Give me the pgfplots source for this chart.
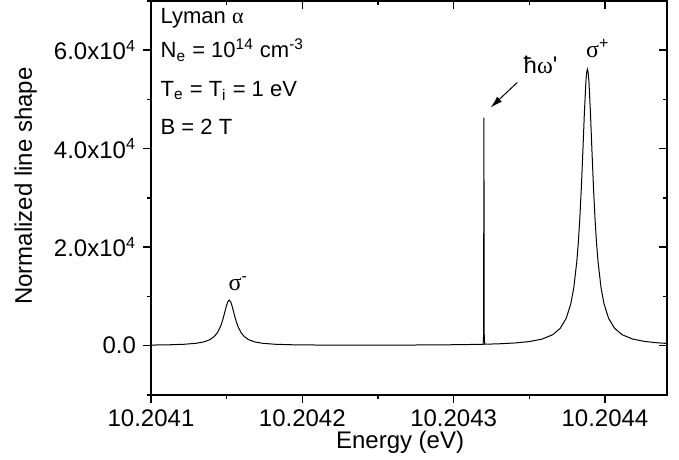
\documentclass[border=0pt]{standalone}
\usepackage{fontspec}
\setmainfont{Liberation Sans}
\newfontfamily\grk{Liberation Serif}
\usepackage{pgfplots}
\pgfplotsset{compat=1.18}
\usetikzlibrary{arrows.meta}
\pgfplotstableread{
x y
0 96
11.7 152
21.7 256
29.7 453
34.7 725
38.7 1163
41.7 1801
43.7 2530
45.7 3702
46.7 4528
47.7 5542
48.7 6713
49.7 7907
50.7 8853
51.7 9222
52.7 8854
53.7 7908
54.7 6714
55.7 5543
56.7 4529
57.7 3703
59.7 2533
61.7 1804
64.7 1168
68.7 731
73.7 461
81.7 267
91.7 167
111.7 99
141.7 83
171.7 104
201.7 170
219.5 259
219.8 2300
220.0 46300
220.2 2300
220.5 266
230 357
240 514
250 809
258.4 1310
265.4 2190
270.4 3486
274.4 5536
277.4 8448
279.4 11745
281.4 17079
282.4 20944
283.4 25904
284.4 32130
285.4 39517
286.4 47283
287.4 53604
287.9 55457
288.4 56104
288.9 55457
289.4 53604
290.4 47283
291.4 39517
292.4 32130
293.4 25904
294.4 20944
295.4 17079
297.4 11745
299.4 8448
302.4 5536
306.4 3486
311.4 2189
318.4 1309
326.4 825
334.4 566
340.8 438
}\spectrum
\begin{document}
\begin{tikzpicture}[font=\fontsize{12}{14}\selectfont]
\pgfplotsset{
  common/.style={
    scale only axis, width=257.85pt, height=197pt,
    xmin=0, xmax=340.8, ymin=-10000, ymax=70000,
    xtick={0,100,200,300}, minor xtick={50,150,250},
    ytick={0,20000,40000,60000}, minor ytick={-10000,10000,30000,50000,70000},
    scaled y ticks=false, scaled x ticks=false,
    axis line style={line width=0.8pt},
    every tick/.style={line width=0.8pt, black},
    major tick length=4pt, minor tick length=2pt,
  }
}
\begin{axis}[common, name=ax,
  tick align=outside, tick pos=left,
  xticklabels={10.2041,10.2042,10.2043,10.2044},
  yticklabels={0.0,2.0x10\textsuperscript{4},4.0x10\textsuperscript{4},6.0x10\textsuperscript{4}},
  xlabel={Energy (eV)}, ylabel={Normalized line shape},
  xlabel style={at={(axis description cs:0.483,0)}, anchor=base, yshift=-26.6pt, inner sep=0pt},
  ylabel style={at={(axis description cs:-0.2428,0.53)}, anchor=center},
  clip=false,
]
\addplot[black, line width=0.5pt] table[x=x,y=y] {\spectrum};
\node[anchor=base west, inner sep=0pt, font=\fontsize{11}{13}\selectfont] at (axis cs:6.15,65450) {Lyman {\grk α}};
\node[anchor=base west, inner sep=0pt, font=\fontsize{11}{13}\selectfont] at (axis cs:6.15,58405) {N\textsubscript{e} = 10\textsuperscript{14} cm\textsuperscript{-3}};
\node[anchor=base west, inner sep=0pt, font=\fontsize{11}{13}\selectfont] at (axis cs:6.15,50590) {T\textsubscript{e} = T\textsubscript{i} = 1 eV};
\node[anchor=base west, inner sep=0pt, font=\fontsize{11}{13}\selectfont] at (axis cs:6.15,42940) {B = 2 T};
\node[anchor=base west, inner sep=0pt] at (axis cs:51.1,11250) {{\grk σ}\textsuperscript{-}};
\node[anchor=base west, inner sep=0pt] at (axis cs:287.3,58520) {{\grk σ}\textsuperscript{+}};
\node[anchor=base west, inner sep=0pt] at (axis cs:246.0,55270) {ħ{\grk ω}\textquotesingle};
\draw[-{Latex[length=6pt,width=3.5pt]}, line width=0.5pt] (axis cs:242.1,53430) -- (axis cs:224.5,48340);
\end{axis}
\begin{axis}[common, tick align=inside, tick pos=right,
  xticklabels={}, yticklabels={}]
\end{axis}
\pgfresetboundingbox
\path[use as bounding box] ([xshift=-75.5pt,yshift=-32.5pt]ax.south west) rectangle ([xshift=6.15pt,yshift=0.4pt]ax.north east);
\end{tikzpicture}
\end{document}
